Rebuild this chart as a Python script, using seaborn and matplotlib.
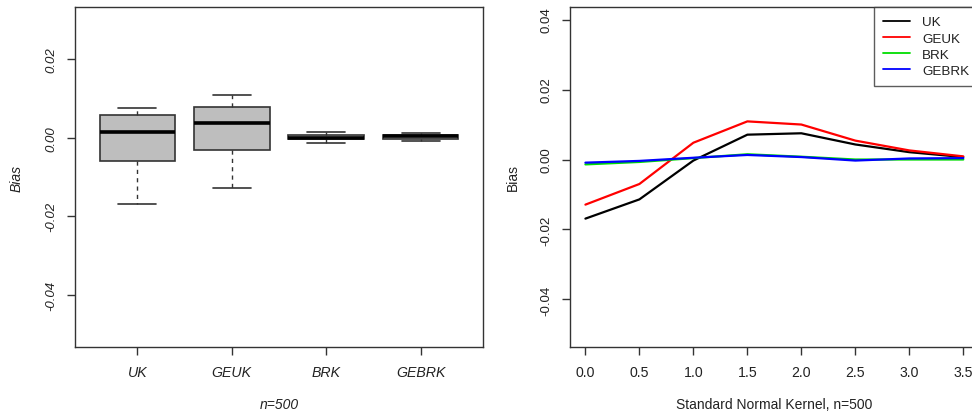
import numpy as np
import pandas as pd
import matplotlib
matplotlib.use("Agg")
import matplotlib.pyplot as plt
import seaborn as sns

# ---- data ----
methods = ["UK", "GEUK", "BRK", "GEBRK"]
bandwidths = [0.0, 0.5, 1.0, 1.5, 2.0, 2.5, 3.0, 3.5]
bias_uk = [-0.0169, -0.0114, -0.0003, 0.0071, 0.0075, 0.0043, 0.0021, 0.0007]
bias_geuk = [-0.0129, -0.0070, 0.0048, 0.0109, 0.0100, 0.0054, 0.0026, 0.0009]
bias_brk = [-0.0014, -0.0007, 0.0004, 0.0015, 0.0008, 0.0000, 0.0000, 0.0000]
bias_gebrk = [-0.0009, -0.0004, 0.0005, 0.0013, 0.0007, -0.0003, 0.0003, 0.0004]
yticks = [-0.04, -0.02, 0.00, 0.02, 0.04]
xticks = [0.0, 0.5, 1.0, 1.5, 2.0, 2.5, 3.0, 3.5]

series = [bias_uk, bias_geuk, bias_brk, bias_gebrk]
colors = ["#000000", "#FF0000", "#00DD00", "#0000FF"]

sns.set_style("ticks")
plt.rcParams["font.family"] = ["Liberation Sans", "DejaVu Sans"]
plt.rcParams["font.size"] = 10

fig = plt.figure(figsize=(9.72, 4.14), dpi=100)
W, H = 972, 414
def axpos(x0, x1, y0, y1):
    return [x0 / W, 1 - y1 / H, (x1 - x0) / W, (y1 - y0) / H]

ax1 = fig.add_axes(axpos(75, 483, 8, 348))
ax2 = fig.add_axes(axpos(570.3, 978.4, 8, 348))

edge = "#333333"
tickcol = "#222222"
XT = 10.2   # x tick label size
YT = 9.5    # y tick label size
LB = 10.0   # axis label size

# ---- left: boxplot with Tukey hinges (R style) ----
def fivenum(v):
    v = np.sort(np.asarray(v, dtype=float))
    n = len(v)
    n4 = np.floor((n + 3) / 2) / 2
    d = np.array([1, n4, (n + 1) / 2, n + 1 - n4, n]) - 1
    return 0.5 * (v[np.floor(d).astype(int)] + v[np.ceil(d).astype(int)])

stats = []
for name, s in zip(methods, series):
    mn, q1, med, q3, mx = fivenum(s)
    iqr = q3 - q1
    arr = np.asarray(s)
    lo = arr[arr >= q1 - 1.5 * iqr].min()
    hi = arr[arr <= q3 + 1.5 * iqr].max()
    stats.append(dict(label=name, q1=q1, med=med, q3=q3, whislo=lo, whishi=hi, fliers=[]))

ax1.bxp(stats, positions=[1, 2, 3, 4], widths=0.8, patch_artist=True,
        boxprops=dict(facecolor="#BEBEBE", edgecolor=edge, linewidth=1.2),
        medianprops=dict(color="black", linewidth=2.6, solid_capstyle="butt"),
        whiskerprops=dict(color=edge, linewidth=1.0, linestyle=(0, (3, 3))),
        capprops=dict(color=edge, linewidth=1.2), capwidths=0.4, showfliers=False)
ax1.set_xlim(0.34, 4.66)
ax1.set_ylim(-0.0532, 0.0332)
ax1.set_yticks([-0.04, -0.02, 0.00, 0.02])
ax1.set_yticklabels([f"{t:.2f}" for t in [-0.04, -0.02, 0.00, 0.02]],
                    rotation=90, va="center", style="italic", color=tickcol, fontsize=YT)
ax1.set_xticks([1, 2, 3, 4])
ax1.set_xticklabels(methods, style="italic", color=tickcol, fontsize=XT)
ax1.set_xlabel("n=500", style="italic", color=tickcol, fontsize=LB)
ax1.set_ylabel("Bias", style="italic", color=tickcol, fontsize=LB)
ax1.xaxis.set_label_coords(0.5, -(405 - 348) / 340)
ax1.xaxis.label.set_va("center")
ax1.yaxis.set_label_coords(-(75 - 17) / 408, 0.5)
ax1.yaxis.label.set_va("center")

# ---- right: lines ----
df = pd.DataFrame({
    "h": np.tile(bandwidths, len(methods)),
    "bias": np.concatenate(series),
    "method": np.repeat(methods, len(bandwidths)),
})
sns.lineplot(data=df, x="h", y="bias", hue="method", hue_order=methods,
             palette=colors, linewidth=1.6, ax=ax2, legend=False)
ax2.set_xlim(-0.14, 3.64)
ax2.set_ylim(-0.0536, 0.0436)
ax2.set_xticks(xticks)
ax2.set_xticklabels([f"{t:.1f}" for t in xticks], color=tickcol, fontsize=XT)
ax2.set_yticks(yticks)
ax2.set_yticklabels([f"{t:.2f}" for t in yticks], rotation=90, va="center",
                    color=tickcol, fontsize=YT)
ax2.set_xlabel("Standard Normal Kernel, n=500", color=tickcol, fontsize=LB)
ax2.set_ylabel("Bias", color=tickcol, fontsize=LB)
ax2.xaxis.set_label_coords(0.5, -(405 - 348) / 340)
ax2.xaxis.label.set_va("center")
ax2.yaxis.set_label_coords(-(570.3 - 512.7) / 408, 0.5)
ax2.yaxis.label.set_va("center")

handles = [plt.Line2D([], [], color=c, linewidth=1.3) for c in colors]
leg = ax2.legend(handles, methods, loc="upper right", borderaxespad=0,
                 frameon=True, fancybox=False, handlelength=2.0, handletextpad=0.94,
                 borderpad=0.67, labelspacing=0.28, fontsize=9.7)
leg.get_frame().set_edgecolor(edge)
leg.get_frame().set_linewidth(1.0)
for t in leg.get_texts():
    t.set_color(tickcol)

for ax in (ax1, ax2):
    for sp in ax.spines.values():
        sp.set_color(edge)
        sp.set_linewidth(1.0)
        sp.set_visible(True)
    ax.tick_params(length=6, width=1.0, color=edge, pad=7)

fig.savefig("out.png", dpi=100)
